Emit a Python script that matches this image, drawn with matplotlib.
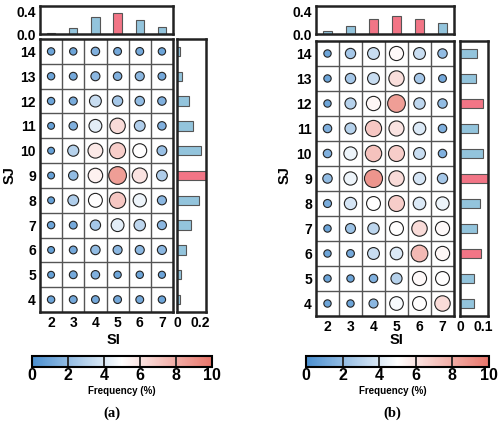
"""Bubble grids of SI/SJ frequency with marginal bars, panels (a) and (b)."""
import matplotlib
matplotlib.use('Agg')
import matplotlib.pyplot as plt
import numpy as np
from matplotlib.colors import LinearSegmentedColormap, Normalize
from matplotlib.colorbar import ColorbarBase

plt.rcParams['font.family'] = ['Liberation Sans', 'DejaVu Sans']
plt.rcParams['font.weight'] = 'bold'

si = [2, 3, 4, 5, 6, 7]
sj = [4, 5, 6, 7, 8, 9, 10, 11, 12, 13, 14]

# frequency (%) per cell, rows = SJ 14 -> 4, cols = SI 2 -> 7
freq_a = [
    [1.0, 1.0, 1.5, 1.2, 1.2, 1.0],
    [1.0, 1.2, 1.8, 1.5, 1.8, 1.2],
    [1.0, 1.3, 3.5, 2.5, 2.0, 1.5],
    [0.8, 1.5, 4.2, 6.3, 2.8, 1.5],
    [0.8, 3.0, 5.8, 6.8, 5.0, 2.2],
    [0.8, 2.0, 5.5, 8.5, 6.0, 2.8],
    [0.8, 2.8, 5.0, 7.0, 4.5, 1.8],
    [1.0, 1.2, 2.5, 4.2, 3.2, 1.8],
    [0.8, 1.2, 2.0, 1.8, 1.8, 1.8],
    [0.8, 1.2, 1.5, 1.0, 1.0, 0.9],
    [1.0, 1.2, 1.2, 1.2, 1.2, 1.0],
]
freq_b = [
    [1.0, 2.5, 3.5, 5.2, 3.5, 2.0],
    [1.0, 2.5, 3.5, 6.2, 2.5, 1.2],
    [1.0, 3.0, 5.3, 8.5, 3.2, 2.0],
    [1.5, 3.0, 7.0, 6.0, 4.0, 1.5],
    [1.5, 4.5, 7.2, 6.8, 3.5, 1.5],
    [2.0, 4.5, 8.8, 6.3, 3.8, 2.5],
    [1.3, 3.8, 5.0, 6.8, 4.0, 4.5],
    [1.0, 2.3, 3.2, 5.0, 6.3, 5.2],
    [1.0, 1.2, 3.5, 4.0, 7.5, 5.3],
    [1.0, 1.0, 1.5, 3.0, 5.2, 5.0],
    [1.0, 1.0, 1.8, 4.8, 5.0, 6.3],
]

# marginal distributions
top_a = [0.01, 0.10, 0.30, 0.38, 0.25, 0.12]
top_a_hi = [False, False, False, True, False, False]
right_a = [0.025, 0.035, 0.075, 0.12, 0.19, 0.25, 0.21, 0.14, 0.10, 0.04, 0.026]  # SJ 4 -> 14
right_a_hi = [False, False, False, False, False, True, False, False, False, False, False]

top_b = [0.05, 0.15, 0.27, 0.33, 0.26, 0.20]
top_b_hi = [False, False, True, True, True, False]
right_b = [0.062, 0.062, 0.088, 0.073, 0.084, 0.118, 0.097, 0.077, 0.097, 0.068, 0.073]
right_b_hi = [False, False, True, False, False, True, False, False, True, False, False]

cmap = LinearSegmentedColormap.from_list('bwr_soft', ['#4a8fd0', '#ffffff', '#e8756a'])
norm = Normalize(0, 10)
BLUE, RED = '#93c4dc', '#f27586'

W, H = 500, 426
fig = plt.figure(figsize=(5, 4.26), dpi=100)


def fx(x0, x1, y0, y1):
    return [x0 / W, 1 - y1 / H, (x1 - x0) / W, (y1 - y0) / H]


def panel(freq, top, top_hi, right, right_hi, box, rmax, rticks, rlabels, tag):
    (gx0, gx1, gy0, gy1), (rx0, rx1), (ty0, ty1), (cx0, cx1) = box
    ax = fig.add_axes(fx(gx0, gx1, gy0, gy1))
    vals = np.array(freq)[::-1]  # now SJ 4 -> 14
    X, Y = np.meshgrid(np.arange(len(si)), np.arange(len(sj)))
    ax.scatter(X.ravel(), Y.ravel(), s=18 * vals.ravel() + 10, c=vals.ravel(),
               cmap=cmap, norm=norm, edgecolors='#222222', linewidths=0.8, zorder=3)
    for k in range(1, len(si)):
        ax.axvline(k - 0.5, color='#555555', lw=1.0)
    for k in range(1, len(sj)):
        ax.axhline(k - 0.5, color='#555555', lw=1.0)
    ax.set_xlim(-0.5, len(si) - 0.5)
    ax.set_ylim(-0.5, len(sj) - 0.5)
    ax.set_xticks(range(len(si)))
    ax.set_xticklabels(si)
    ax.set_yticks(range(len(sj)))
    ax.set_yticklabels(sj)
    ax.tick_params(length=0, labelsize=10, pad=3)
    for sp in ax.spines.values():
        sp.set_linewidth(1.8)
        sp.set_color('#222222')

    # top marginal
    axt = fig.add_axes(fx(gx0, gx1, ty0, ty1))
    axt.bar(range(len(si)), top, width=0.38,
            color=[RED if h else BLUE for h in top_hi], edgecolor='#555555', lw=0.8)
    axt.set_xlim(-0.5, len(si) - 0.5)
    axt.set_ylim(0, 0.5)
    axt.set_xticks([])
    axt.set_yticks([0, 0.4])
    axt.set_yticklabels(['0.0', '0.4'])
    axt.tick_params(length=0, labelsize=10, pad=3)
    for sp in axt.spines.values():
        sp.set_linewidth(1.8)
        sp.set_color('#222222')

    # right marginal
    axr = fig.add_axes(fx(rx0, rx1, gy0, gy1))
    axr.barh(range(len(sj)), right, height=0.38,
             color=[RED if h else BLUE for h in right_hi], edgecolor='#555555', lw=0.8)
    axr.set_ylim(-0.5, len(sj) - 0.5)
    axr.set_xlim(0, rmax)
    axr.set_yticks([])
    axr.set_xticks(rticks)
    axr.set_xticklabels(rlabels)
    axr.tick_params(length=0, labelsize=10, pad=3)
    for sp in axr.spines.values():
        sp.set_linewidth(1.8)
        sp.set_color('#222222')

    # colorbar
    cax = fig.add_axes(fx(cx0, cx1, 356, 367))
    cb = ColorbarBase(cax, cmap=cmap, norm=norm, orientation='horizontal')
    cb.set_ticks([0, 2, 4, 6, 8, 10])
    cax.tick_params(length=0, labelsize=11.5, pad=1)
    cb.outline.set_linewidth(1.5)
    for v in [2, 4, 6, 8]:
        cax.axvline(v, color='#222222', lw=1.3)

    xl, xs, xj, xt = tag[1:]
    fig.text(xs / W, 1 - 340 / H, 'SI', ha='center', va='center', fontsize=10.5, weight='bold')
    fig.text(xj / W, 1 - 175 / H, 'SJ', ha='center', va='center', fontsize=10.5,
             weight='bold', rotation=90)
    fig.text(xt / W, 1 - 391 / H, 'Frequency (%)', ha='center', va='center',
             fontsize=7, weight='bold')
    fig.text(xl / W, 1 - 413 / H, tag[0], ha='center', va='center', fontsize=10.5,
             weight='bold', family=['Liberation Serif', 'DejaVu Serif'])


panel(freq_a, top_a, top_a_hi, right_a, right_a_hi,
      ((40, 173, 39, 312), (177, 206), (6, 34), (32, 212)),
      0.25, [0, 0.2], ['0', '0.2'], ('(a)', 112, 114, 10, 122))
panel(freq_b, top_b, top_b_hi, right_b, right_b_hi,
      ((316, 454, 41, 316), (460, 488), (6, 34), (306, 489)),
      0.12, [0, 0.1], ['0', '0.1'], ('(b)', 392, 397, 285, 393))

fig.savefig('out.png', dpi=100)
